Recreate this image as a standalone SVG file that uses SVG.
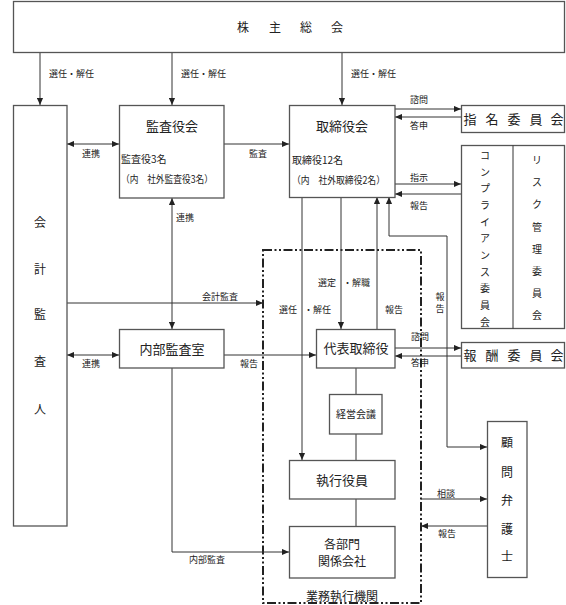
<svg xmlns="http://www.w3.org/2000/svg" width="566" height="605" viewBox="0 0 566 605">
<style>
text{font-family:"Noto Sans CJK JP","Noto Sans CJK SC",sans-serif;fill:#222}
.box{fill:#fff;stroke:#555;stroke-width:1.3}
.ln{fill:none;stroke:#333;stroke-width:1}
.t13{font-size:13px}
.t12{font-size:12px}
.t10{font-size:10px}
.s{font-size:9px}
.c{text-anchor:middle}
.dd{fill:none;stroke:#222;stroke-width:2;stroke-dasharray:9 2.5 2 2.5 2 2.5}
</style>
<defs>
<marker id="ar" viewBox="0 0 8 8" refX="8" refY="4" markerWidth="7" markerHeight="7" markerUnits="userSpaceOnUse" orient="auto-start-reverse">
<path d="M0,0.5 L8,4 L0,7.5 z" fill="#222"/>
</marker>
</defs>

<g id="gyomu">
<rect class="dd" x="263" y="250" width="158" height="353"/>
<text class="t12 c" x="342" y="601">業務執行機関</text>
</g>

<g id="connectors">
<line class="ln" x1="40" y1="53" x2="40" y2="105" marker-end="url(#ar)"/>
<text class="s" x="49" y="77">選任・解任</text>
<line class="ln" x1="172" y1="53" x2="172" y2="105" marker-end="url(#ar)"/>
<text class="s" x="181" y="77">選任・解任</text>
<line class="ln" x1="342" y1="53" x2="342" y2="105" marker-end="url(#ar)"/>
<text class="s" x="351" y="77">選任・解任</text>

<line class="ln" x1="67" y1="144" x2="119" y2="144" marker-start="url(#ar)" marker-end="url(#ar)"/>
<text class="s" x="82" y="157">連携</text>
<line class="ln" x1="224" y1="144" x2="289" y2="144" marker-end="url(#ar)"/>
<text class="s c" x="258" y="157">監査</text>

<line class="ln" x1="395" y1="109" x2="461" y2="109" marker-end="url(#ar)"/>
<text class="s c" x="419" y="103">諮問</text>
<line class="ln" x1="461" y1="117" x2="395" y2="117" marker-end="url(#ar)"/>
<text class="s c" x="419" y="129">答申</text>
<line class="ln" x1="395" y1="184" x2="461" y2="184" marker-end="url(#ar)"/>
<text class="s c" x="419" y="181">指示</text>
<line class="ln" x1="461" y1="194" x2="395" y2="194" marker-end="url(#ar)"/>
<text class="s c" x="419" y="209">報告</text>

<line class="ln" x1="172" y1="198" x2="172" y2="329" marker-start="url(#ar)" marker-end="url(#ar)"/>
<text class="s" x="176" y="221">連携</text>

<line class="ln" x1="67" y1="303" x2="263" y2="303" marker-end="url(#ar)"/>
<text class="s c" x="220" y="300">会計監査</text>
<line class="ln" x1="67" y1="355" x2="119" y2="355" marker-start="url(#ar)" marker-end="url(#ar)"/>
<text class="s" x="82" y="367">連携</text>
<line class="ln" x1="224" y1="355" x2="316" y2="355" marker-end="url(#ar)"/>
<text class="s c" x="249" y="367">報告</text>

<line class="ln" x1="302" y1="197" x2="302" y2="460" marker-end="url(#ar)"/>
<text class="s" y="313"><tspan x="279">選任</tspan><tspan x="304">・解任</tspan></text>
<line class="ln" x1="341" y1="197" x2="341" y2="329" marker-end="url(#ar)"/>
<text class="s" y="286"><tspan x="318">選定</tspan><tspan x="343">・解職</tspan></text>
<line class="ln" x1="377" y1="329" x2="377" y2="197" marker-end="url(#ar)"/>
<text class="s c" x="394" y="313">報告</text>

<path class="ln" d="M389,197 V236 H447 V447 H487" marker-start="url(#ar)" marker-end="url(#ar)"/>
<text class="s c"><tspan x="440" y="300">報</tspan><tspan x="440" y="312">告</tspan></text>

<line class="ln" x1="395" y1="348" x2="461" y2="348" marker-end="url(#ar)"/>
<text class="s c" x="420" y="340">諮問</text>
<line class="ln" x1="461" y1="356" x2="395" y2="356" marker-end="url(#ar)"/>
<text class="s c" x="420" y="366">答申</text>

<line class="ln" x1="356" y1="368" x2="356" y2="394"/>
<line class="ln" x1="356" y1="434" x2="356" y2="460"/>
<line class="ln" x1="356" y1="499" x2="356" y2="526"/>

<path class="ln" d="M172,368 V552 H289" marker-end="url(#ar)"/>
<text class="s c" x="207" y="563">内部監査</text>

<line class="ln" x1="421" y1="499" x2="487" y2="499" marker-end="url(#ar)"/>
<text class="s c" x="446" y="497">相談</text>
<line class="ln" x1="487" y1="526" x2="421" y2="526" marker-end="url(#ar)"/>
<text class="s c" x="447" y="537">報告</text>
</g>

<g id="kabunushi">
<rect class="box" x="13.5" y="1.5" width="551" height="51"/>
<text class="t12 c" y="32"><tspan x="243">株</tspan><tspan x="275">主</tspan><tspan x="306">総</tspan><tspan x="337">会</tspan></text>
</g>

<g id="kaikei">
<rect class="box" x="13.5" y="105.5" width="53.5" height="420.5"/>
<text class="t12 c"><tspan x="40" y="227">会</tspan><tspan x="40" y="274">計</tspan><tspan x="40" y="319">監</tspan><tspan x="40" y="366">査</tspan><tspan x="40" y="414">人</tspan></text>
</g>

<g id="kansayakukai">
<rect class="box" x="119.5" y="105.5" width="104.5" height="92.5"/>
<text class="t13 c" x="172" y="131">監査役会</text>
<text class="t10" x="121" y="163">監査役3名</text>
<text class="t10" x="121" y="183" textLength="92" lengthAdjust="spacingAndGlyphs">（内　社外監査役3名）</text>
</g>

<g id="torishimariyakukai">
<rect class="box" x="289.5" y="105.5" width="105.5" height="92"/>
<text class="t13 c" x="342" y="131">取締役会</text>
<text class="t10" x="292" y="164">取締役12名</text>
<text class="t10" x="292" y="184" textLength="93" lengthAdjust="spacingAndGlyphs">（内　社外取締役2名）</text>
</g>

<g id="shimei">
<rect class="box" x="461.5" y="105.5" width="103" height="27"/>
<text class="t13 c" y="123.5"><tspan x="470">指</tspan><tspan x="492">名</tspan><tspan x="514">委</tspan><tspan x="536">員</tspan><tspan x="557">会</tspan></text>
</g>

<g id="compliance-risk">
<rect class="box" x="461.5" y="145.5" width="103" height="183"/>
<line class="ln" x1="513" y1="145.5" x2="513" y2="328.5" stroke="#555"/>
<text class="t10 c"><tspan x="485" y="159">コ</tspan><tspan x="485" y="176">ン</tspan><tspan x="485" y="192">プ</tspan><tspan x="485" y="209">ラ</tspan><tspan x="485" y="226">イ</tspan><tspan x="485" y="242">ア</tspan><tspan x="485" y="259">ン</tspan><tspan x="485" y="276">ス</tspan><tspan x="485" y="292">委</tspan><tspan x="485" y="309">員</tspan><tspan x="485" y="326">会</tspan></text>
<text class="t10 c"><tspan x="537" y="164">リ</tspan><tspan x="537" y="186">ス</tspan><tspan x="537" y="208">ク</tspan><tspan x="537" y="231">管</tspan><tspan x="537" y="253">理</tspan><tspan x="537" y="275">委</tspan><tspan x="537" y="297">員</tspan><tspan x="537" y="319">会</tspan></text>
</g>

<g id="hoshu">
<rect class="box" x="461.5" y="342.5" width="103" height="25.5"/>
<text class="t13 c" y="360"><tspan x="470">報</tspan><tspan x="492">酬</tspan><tspan x="514">委</tspan><tspan x="536">員</tspan><tspan x="557">会</tspan></text>
</g>

<g id="naibu">
<rect class="box" x="119.5" y="329.5" width="104.5" height="38.5"/>
<text class="t13 c" x="172" y="353.5">内部監査室</text>
</g>

<g id="daihyo">
<rect class="box" x="316.5" y="329.5" width="78.5" height="38.5"/>
<text class="t13 c" x="356" y="353">代表取締役</text>
</g>

<g id="keiei">
<rect class="box" x="329.5" y="394.5" width="52.5" height="39.5"/>
<text class="t10 c" x="356" y="418">経営会議</text>
</g>

<g id="shikko">
<rect class="box" x="289.5" y="460.5" width="105.5" height="38.5"/>
<text class="t13 c" x="342" y="485">執行役員</text>
</g>

<g id="kakubumon">
<rect class="box" x="289.5" y="526.5" width="105.5" height="51.5"/>
<text class="t12 c" x="342" y="549">各部門</text>
<text class="t12 c" x="342" y="566">関係会社</text>
</g>

<g id="komon">
<rect class="box" x="487.5" y="421.5" width="39.5" height="156"/>
<text class="t12 c"><tspan x="507" y="447">顧</tspan><tspan x="507" y="477">問</tspan><tspan x="507" y="505">弁</tspan><tspan x="507" y="534">護</tspan><tspan x="507" y="561">士</tspan></text>
</g>
</svg>
